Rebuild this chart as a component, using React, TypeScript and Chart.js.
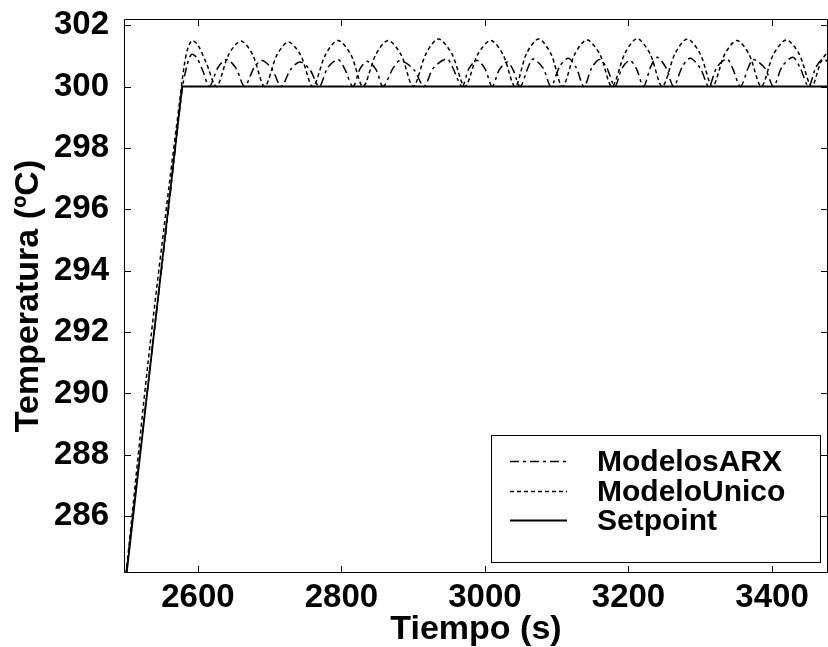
import React, { useEffect, useRef } from "react";
import { Chart, registerables } from "chart.js";

Chart.register(...registerables);

const xTicks = [2600, 2800, 3000, 3200, 3400];
const yTicks = [286, 288, 290, 292, 294, 296, 298, 300, 302];

const setpointT = [2500, 2578, 3478];
const setpointY = [284.0, 300.0, 300.0];

const unicoT = [
  2500, 2530, 2560, 2575, 2581, 2586, 2592, 2600, 2612, 2626,
  2643, 2660, 2676, 2693,
  2710, 2726, 2743, 2760,
  2778, 2795, 2813, 2830,
  2848, 2865, 2883, 2900,
  2918, 2935, 2954, 2972,
  2990, 3008, 3025, 3042,
  3058, 3075, 3092, 3108,
  3125, 3142, 3160, 3177,
  3195, 3212, 3230, 3247,
  3265, 3282, 3300, 3317,
  3334, 3351, 3368, 3385,
  3402, 3420, 3438, 3455,
  3468, 3478,
];
const unicoY = [
  284.15, 290.9, 296.8, 299.6, 300.7, 301.25, 301.5, 301.35, 300.75, 300.0,
  301.05, 301.48, 301.05, 300.0,
  301.02, 301.45, 301.03, 300.0,
  301.05, 301.5, 301.05, 300.0,
  301.05, 301.5, 301.04, 300.0,
  301.08, 301.55, 301.06, 300.0,
  301.05, 301.5, 301.05, 300.0,
  301.08, 301.55, 301.06, 300.0,
  301.05, 301.52, 301.05, 300.0,
  301.08, 301.56, 301.07, 300.0,
  301.08, 301.55, 301.06, 300.0,
  301.05, 301.5, 301.05, 300.0,
  301.05, 301.52, 301.05, 300.0,
  300.8, 301.15,
];

const arxT = [
  2500, 2530, 2560, 2578, 2585, 2591, 2598, 2607, 2616,
  2628, 2640, 2653, 2665,
  2678, 2689, 2703, 2716,
  2729, 2742, 2756, 2769,
  2781, 2795, 2804, 2816,
  2826, 2836, 2848, 2858,
  2872, 2882, 2901, 2915,
  2928, 2947, 2955, 2968,
  2978, 2989, 3000, 3010,
  3020, 3031, 3039, 3049,
  3060, 3067, 3081, 3092,
  3104, 3116, 3127, 3138,
  3149, 3160, 3170, 3181,
  3191, 3202, 3211, 3221,
  3231, 3240, 3252, 3263,
  3275, 3286, 3300, 3312,
  3323, 3337, 3345, 3356,
  3367, 3374, 3390, 3402,
  3414, 3429, 3439, 3451,
  3461, 3471, 3478,
];
const arxY = [
  284.15, 290.2, 296.2, 299.9, 300.7, 301.05, 300.95, 300.5, 300.0,
  300.62, 300.88, 300.6, 300.0,
  300.6, 300.85, 300.58, 300.0,
  300.55, 300.8, 300.55, 300.0,
  300.62, 300.88, 300.6, 300.0,
  300.58, 300.82, 300.56, 300.0,
  300.6, 300.85, 300.55, 300.0,
  300.6, 300.9, 300.62, 300.0,
  300.6, 300.85, 300.58, 300.0,
  300.55, 300.8, 300.55, 300.0,
  300.62, 300.9, 300.6, 300.0,
  300.65, 300.92, 300.62, 300.0,
  300.62, 300.88, 300.6, 300.0,
  300.6, 300.85, 300.58, 300.0,
  300.65, 300.95, 300.62, 300.0,
  300.65, 300.92, 300.6, 300.0,
  300.62, 300.9, 300.6, 300.0,
  300.62, 300.88, 300.6, 300.0,
  300.65, 300.95, 300.62, 300.0,
  300.62, 300.9, 300.8,
];

const seriesLabels = ["ModelosARX", "ModeloUnico", "Setpoint"];
const FONT = "'Liberation Sans', Arial, Helvetica, sans-serif";

const toPoints = (t: number[], y: number[]) => t.map((v, i) => ({ x: v, y: y[i] }));

const framePlugin = {
  id: "frameTicks",
  afterDatasetsDraw(chart: any) {
    const { ctx, chartArea } = chart;
    const xs = chart.scales.x;
    const ys = chart.scales.y;
    ctx.save();
    ctx.strokeStyle = "#000";
    ctx.lineWidth = 1;
    ctx.beginPath();
    ctx.rect(chartArea.left + 0.5, chartArea.top + 0.5, chartArea.right - chartArea.left - 1, chartArea.bottom - chartArea.top - 1);
    ctx.stroke();
    const tl = 7;
    ctx.beginPath();
    xTicks.forEach((v) => {
      const px = Math.round(xs.getPixelForValue(v)) + 0.5;
      ctx.moveTo(px, chartArea.bottom);
      ctx.lineTo(px, chartArea.bottom - tl);
      ctx.moveTo(px, chartArea.top);
      ctx.lineTo(px, chartArea.top + tl);
    });
    yTicks.forEach((v) => {
      const py = Math.round(ys.getPixelForValue(v)) + 0.5;
      ctx.moveTo(chartArea.left, py);
      ctx.lineTo(chartArea.left + tl, py);
      ctx.moveTo(chartArea.right, py);
      ctx.lineTo(chartArea.right - tl, py);
    });
    ctx.stroke();
    ctx.restore();
  },
  afterDraw(chart: any) {
    const { ctx } = chart;
    const bx = 491, by = 435, bw = 329, bh = 127;
    ctx.save();
    ctx.fillStyle = "#fff";
    ctx.fillRect(bx, by, bw, bh);
    ctx.strokeStyle = "#000";
    ctx.lineWidth = 1;
    ctx.strokeRect(bx + 0.5, by + 0.5, bw, bh);
    const rows = [461, 491, 520];
    chart.data.datasets.forEach((ds: any, i: number) => {
      const yy = rows[i] + 0.5;
      ctx.setLineDash(ds.borderDash || []);
      ctx.lineWidth = ds.borderWidth;
      ctx.beginPath();
      ctx.moveTo(510, yy);
      ctx.lineTo(567, yy);
      ctx.stroke();
      ctx.setLineDash([]);
      ctx.fillStyle = "#000";
      ctx.font = `bold 30px ${FONT}`;
      ctx.textBaseline = "alphabetic";
      ctx.textAlign = "left";
      ctx.fillText(ds.label, 597, rows[i] + 10);
    });
    ctx.restore();
  },
};

export default function App() {
  const ref = useRef<HTMLCanvasElement | null>(null);
  useEffect(() => {
    document.body.style.margin = "0";
    const canvas = ref.current;
    if (!canvas) return;
    const chart = new Chart(canvas, {
      type: "line",
      data: {
        datasets: [
          {
            label: seriesLabels[0],
            data: toPoints(arxT, arxY),
            borderColor: "#000",
            borderWidth: 1.5,
            borderDash: [9, 4, 3, 4],
            pointRadius: 0,
            tension: 0.3,
            fill: false,
          },
          {
            label: seriesLabels[1],
            data: toPoints(unicoT, unicoY),
            borderColor: "#000",
            borderWidth: 1.5,
            borderDash: [4, 3],
            pointRadius: 0,
            tension: 0.3,
            fill: false,
          },
          {
            label: seriesLabels[2],
            data: toPoints(setpointT, setpointY),
            borderColor: "#000",
            borderWidth: 1.8,
            borderDash: [],
            pointRadius: 0,
            tension: 0,
            fill: false,
          },
        ],
      },
      options: {
        responsive: false,
        animation: false,
        layout: { padding: { top: 19, right: 0, left: 0, bottom: 0 } },
        plugins: { legend: { display: false }, tooltip: { enabled: false } },
        scales: {
          x: {
            type: "linear",
            min: 2497,
            max: 3478,
            afterBuildTicks: (s: any) => {
              s.ticks = xTicks.map((v) => ({ value: v }));
            },
            afterFit: (s: any) => {
              s.height = 74;
              s.paddingLeft = 0;
              s.paddingRight = 0;
            },
            grid: { display: false },
            border: { display: false },
            ticks: {
              color: "#000",
              padding: -3,
              maxRotation: 0,
              autoSkip: false,
              font: { family: FONT, size: 33, weight: "bold" },
              callback: (v: any) => String(v),
            },
            title: {
              display: true,
              text: "Tiempo (s)",
              color: "#000",
              font: { family: FONT, size: 34, weight: "bold", lineHeight: 1 },
              padding: { top: 0, bottom: 0 },
            },
          },
          y: {
            type: "linear",
            min: 284.15,
            max: 302.2,
            afterBuildTicks: (s: any) => {
              s.ticks = yTicks.map((v) => ({ value: v }));
            },
            afterFit: (s: any) => {
              s.width = 124;
              s.paddingTop = 0;
              s.paddingBottom = 0;
            },
            grid: { display: false },
            border: { display: false },
            ticks: {
              color: "#000",
              padding: 7,
              autoSkip: false,
              font: { family: FONT, size: 33, weight: "bold" },
              callback: (v: any) => String(v),
            },
            title: {
              display: true,
              text: "Temperatura (ºC)",
              color: "#000",
              font: { family: FONT, size: 34, weight: "bold" },
              padding: { top: 8, bottom: 0 },
            },
          },
        },
      },
      plugins: [framePlugin],
    });
    return () => chart.destroy();
  }, []);
  return (
    <div style={{ width: 828, height: 647, background: "#fff" }}>
      <canvas ref={ref} width={828} height={647} style={{ display: "block" }} />
    </div>
  );
}
